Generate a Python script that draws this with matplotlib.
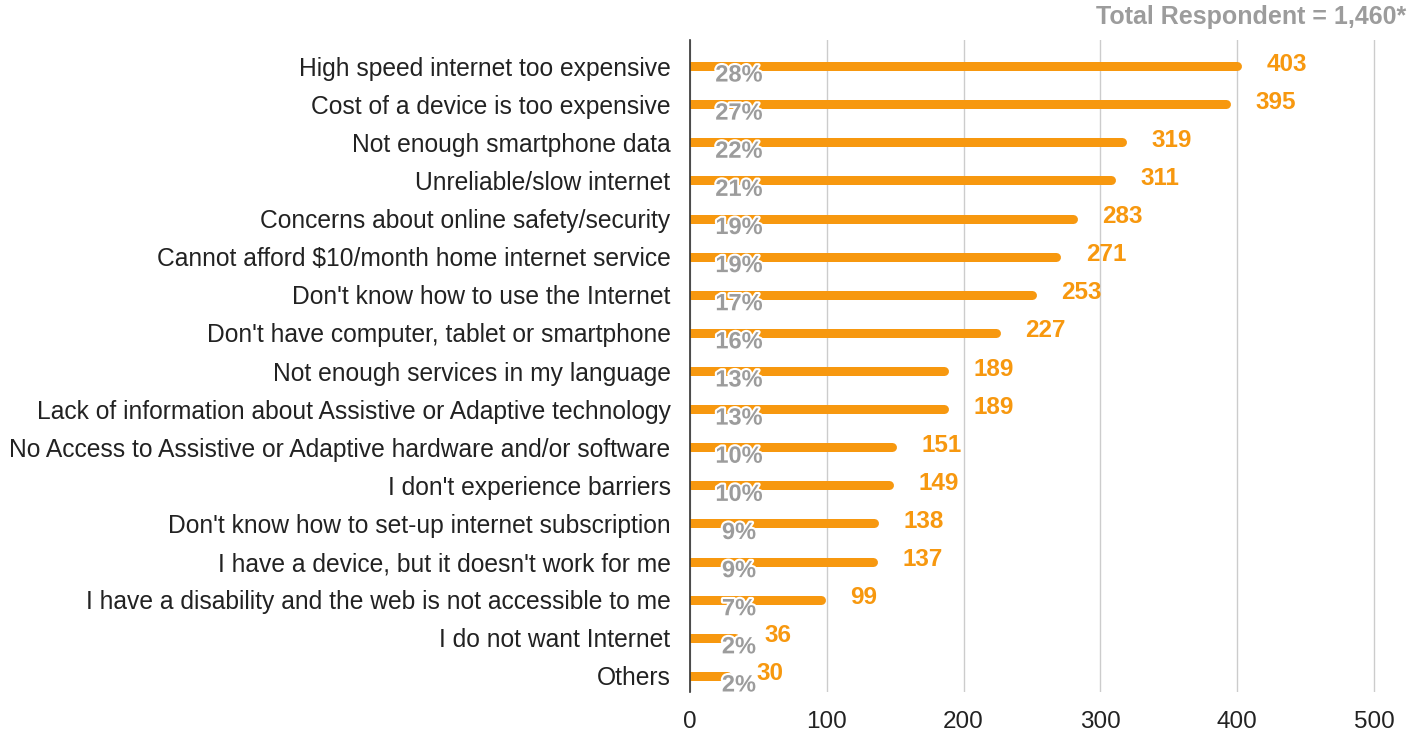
import matplotlib.pyplot as plt
import matplotlib.patheffects as pe

plt.rcParams['font.family'] = ['Liberation Sans', 'DejaVu Sans']

categories = [
    "High speed internet too expensive",
    "Cost of a device is too expensive",
    "Not enough smartphone data",
    "Unreliable/slow internet",
    "Concerns about online safety/security",
    "Cannot afford $10/month home internet service",
    "Don't know how to use the Internet",
    "Don't have computer, tablet or smartphone",
    "Not enough services in my language",
    "Lack of information about Assistive or Adaptive technology",
    "No Access to Assistive or Adaptive hardware and/or software",
    "I don't experience barriers",
    "Don't know how to set-up internet subscription",
    "I have a device, but it doesn't work for me",
    "I have a disability and the web is not accessible to me",
    "I do not want Internet",
    "Others",
]
counts = [403, 395, 319, 311, 283, 271, 253, 227, 189, 189, 151, 149, 138, 137, 99, 36, 30]
percents = ["28%", "27%", "22%", "21%", "19%", "19%", "17%", "16%", "13%", "13%",
            "10%", "10%", "9%", "9%", "7%", "2%", "2%"]
xticks = [0, 100, 200, 300, 400, 500]
total_label = "Total Respondent = 1,460*"

ORANGE = "#F7980F"
GREY = "#9C9C9C"

fig = plt.figure(figsize=(14.12, 7.46), dpi=100)
W, H = 1412, 746
left, right, top, bottom = 690, 1400, 40, 692
ax = fig.add_axes([left / W, 1 - bottom / H, (right - left) / W, (bottom - top) / H])

px_per_unit = 1.368
n = len(categories)
ypos = [-i for i in range(n)]
row_px = 38.1
ax.set_xlim(0, (right - left) / px_per_unit)
ax.set_ylim(-(n - 1) - (bottom - 676) / row_px, (66 - top) / row_px)

# thick round-capped lines; the cap adds half the line width, so stop short by that much
bar_px = 9
cap = (bar_px / 2) / px_per_unit
ax.hlines(ypos, 0, [c - cap for c in counts], colors=ORANGE,
          linewidth=bar_px * 72 / 100, capstyle="round", zorder=2)

for y, c, p in zip(ypos, counts, percents):
    ax.annotate(p, (0, y), xytext=(49, -9), textcoords="offset pixels",
                ha="center", va="center", fontsize=17, color=GREY,
                fontweight="bold", zorder=3,
                path_effects=[pe.withStroke(linewidth=3, foreground="white")])
    ax.annotate(str(c), (c, y), xytext=(25, 2), textcoords="offset pixels",
                ha="left", va="center", fontsize=17.5, color=ORANGE,
                fontweight="bold", zorder=3)

ax.set_yticks(ypos)
ax.set_yticklabels(categories, fontsize=17.7, color="#222222")
ax.set_xticks(xticks)
ax.set_xticklabels([str(t) for t in xticks], fontsize=17.5, color="#222222")
ax.tick_params(axis="both", length=0)
ax.tick_params(axis="y", pad=14)
ax.tick_params(axis="x", pad=14)

ax.grid(axis="x", color="#CCCCCC", linewidth=1, zorder=0)
for s in ["top", "right", "bottom"]:
    ax.spines[s].set_visible(False)
ax.spines["left"].set_color("#333333")
ax.spines["left"].set_linewidth(1.2)
ax.spines["left"].set_zorder(4)

fig.text(1406 / W, 1 - 17 / H, total_label, ha="right", va="center",
         fontsize=18, color=GREY, fontweight="bold")

fig.savefig("out.png", dpi=100, facecolor="white")
